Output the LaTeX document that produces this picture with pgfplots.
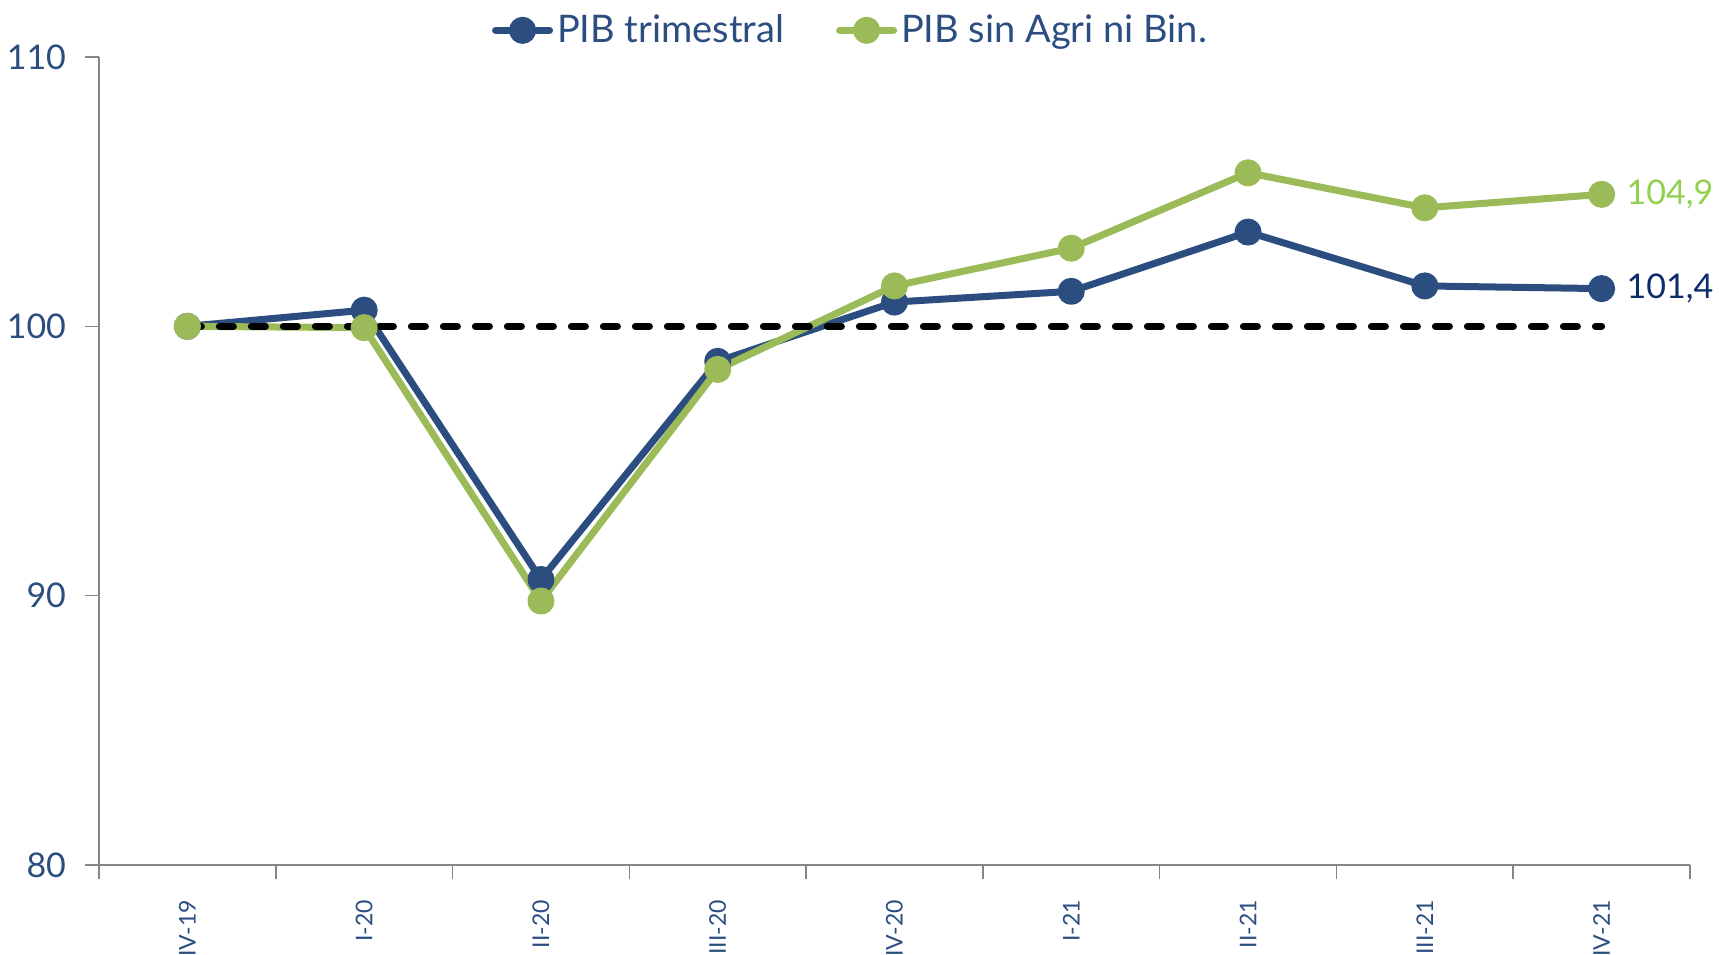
\documentclass[border=0pt]{standalone}
\usepackage{fontspec}
\setmainfont{Lato}
\usepackage{pgfplots}
\pgfplotsset{compat=1.18}
\definecolor{pibblue}{HTML}{2C4D7F}
\definecolor{pibgreen}{HTML}{9BBB59}
\definecolor{labnavy}{HTML}{0C2C6C}
\definecolor{labgreen}{HTML}{92D050}
\definecolor{axgray}{HTML}{868686}
\begin{document}
\begin{tikzpicture}
\useasboundingbox (-49.5bp,-45bp) rectangle (810bp,432.5bp);
\begin{axis}[
  at={(0,0)}, anchor=south west,
  scale only axis, width=795.5bp, height=404bp,
  xmin=-0.5, xmax=8.5, ymin=80, ymax=110,
  clip=false,
  axis lines=left,
  axis line style={draw=axgray, line width=0.8bp, -},
  tick style={draw=axgray, line width=0.8bp},
  tick align=outside,
  major tick length=7bp,
  xtick={-0.5,0.5,...,8.5},
  xticklabels={},
  extra x ticks={0,1,2,3,4,5,6,7,8},
  extra x tick labels={IV-19,I-20,II-20,III-20,IV-20,I-21,II-21,III-21,IV-21},
  extra x tick style={major tick length=0pt, tick style={draw=none},
    xticklabel style={rotate=90, anchor=east, xshift=-14bp}},
  xticklabel style={font=\fontsize{11.5bp}{12bp}\selectfont, text=pibblue},
  ytick={80,90,100,110},
  yticklabel style={font=\fontsize{17bp}{17bp}\selectfont, text=pibblue, xshift=-6bp},
  /pgf/number format/assume math mode=true,
  legend style={at={(0.473,1.033)}, anchor=center, draw=none, fill=none,
    legend columns=2, font=\fontsize{19bp}{19bp}\selectfont, text=pibblue,
    /tikz/every even column/.append style={column sep=24bp},
    inner sep=0pt},
  legend image code/.code={%
    \draw[mark repeat=2,mark phase=2,#1] plot coordinates {(0bp,0bp)(13.5bp,0bp)(27bp,0bp)};},
]
\addplot[pibblue, line width=3.5bp, line join=round, line cap=round, mark=*, mark size=5bp, mark options={solid}]
  coordinates {(0,100)(1,100.6)(2,90.6)(3,98.7)(4,100.9)(5,101.3)(6,103.5)(7,101.5)(8,101.4)};
\addlegendentry{PIB trimestral}
\addplot[pibgreen, line width=3.5bp, line join=round, line cap=round, mark=*, mark size=5bp, mark options={solid}]
  coordinates {(0,100)(1,99.95)(2,89.8)(3,98.4)(4,101.5)(5,102.9)(6,105.7)(7,104.4)(8,104.9)};
\addlegendentry{PIB sin Agri ni Bin.}
\addplot[black, line width=3.5bp, line cap=round, dash pattern=on 7bp off 9bp, forget plot]
  coordinates {(0,100)(8,100)};
\node[anchor=west, text=labgreen, font=\fontsize{17bp}{17bp}\selectfont, xshift=9bp] at (axis cs:8,104.9) {104,9};
\node[anchor=west, text=labnavy, font=\fontsize{17bp}{17bp}\selectfont, xshift=9bp] at (axis cs:8,101.4) {101,4};
\end{axis}
\end{tikzpicture}
\end{document}
